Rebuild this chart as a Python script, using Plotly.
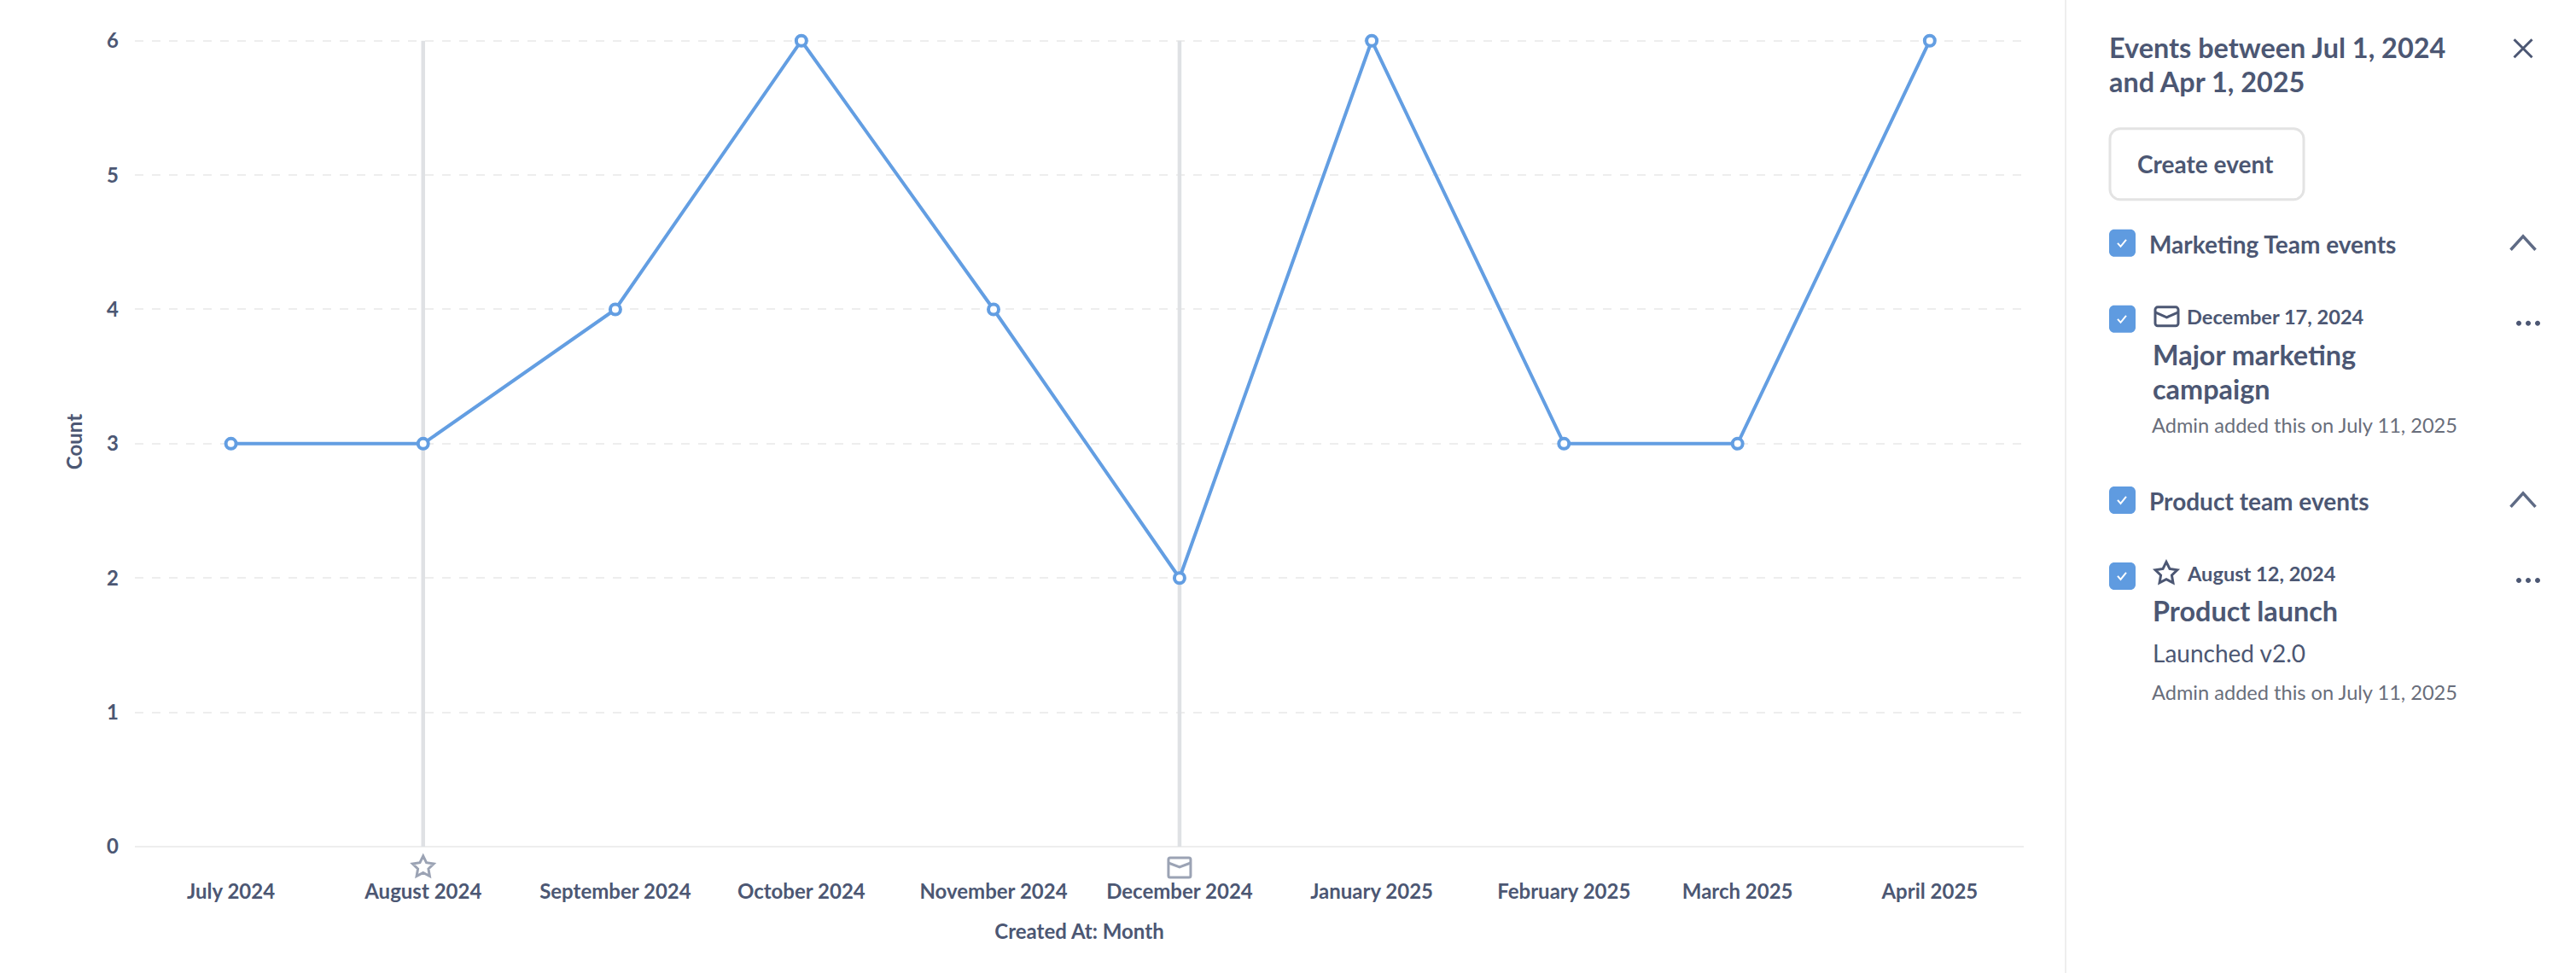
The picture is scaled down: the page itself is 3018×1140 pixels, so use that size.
import math
import plotly.graph_objects as go

# ---------- data ----------
months = ["2024-07-01", "2024-08-01", "2024-09-01", "2024-10-01", "2024-11-01",
          "2024-12-01", "2025-01-01", "2025-02-01", "2025-03-01", "2025-04-01"]
month_labels = ["July 2024", "August 2024", "September 2024", "October 2024", "November 2024",
                "December 2024", "January 2025", "February 2025", "March 2025", "April 2025"]
counts = [3, 3, 4, 6, 4, 2, 6, 3, 3, 6]
y_ticks = [0, 1, 2, 3, 4, 5, 6]
event_months = ["2024-08-01", "2024-12-01"]
event_icons = ["star", "mail"]

x_title = "Created At: Month"
y_title = "Count"
panel_title = ["Events between Jul 1, 2024", "and Apr 1, 2025"]
button_label = "Create event"
group_names = ["Marketing Team events", "Product team events"]
event_dates = ["December 17, 2024", "August 12, 2024"]
event_names = [["Major marketing", "campaign"], ["Product launch"]]
event_note = "Launched v2.0"
event_author = "Admin added this on July 11, 2025"

# ---------- style / layout ----------
W, H = 3018, 1140
Y_TOP = 6.03  # a hair above 6 so the top gridline is still drawn
L, R, B = 158, 2371, 992
T = 48 - (Y_TOP - 6) * (992 - 48) / 6
FONT = "Lato"
TXT = "#4C5773"
BLUE = "#639EE2"
GRID = "#EEEEEE"
EVT = "#DFE1E4"
ICON = "#9BA3B4"
CHECK = "#5F9BE0"
DX, DY = -3, -1  # annotation text box inset


def px(x):
    return (x - L) / (R - L)


def py(y):
    return (B - y) / (B - T)


def pt(x, y):
    return f"{px(x):.6f},{py(y):.6f}"


def rrect(x0, y0, x1, y1, r):
    k = 0.45 * r
    return (f"M{pt(x0 + r, y0)} L{pt(x1 - r, y0)} "
            f"C{pt(x1 - k, y0)} {pt(x1, y0 + k)} {pt(x1, y0 + r)} "
            f"L{pt(x1, y1 - r)} C{pt(x1, y1 - k)} {pt(x1 - k, y1)} {pt(x1 - r, y1)} "
            f"L{pt(x0 + r, y1)} C{pt(x0 + k, y1)} {pt(x0, y1 - k)} {pt(x0, y1 - r)} "
            f"L{pt(x0, y0 + r)} C{pt(x0, y0 + k)} {pt(x0 + k, y0)} {pt(x0 + r, y0)} Z")


def poly(points, close=False):
    s = "M" + " L".join(pt(a, b) for a, b in points)
    return s + (" Z" if close else "")


def star_pts(cx, cy, r):
    out = []
    for i in range(10):
        rad = r if i % 2 == 0 else r * 0.5
        a = -math.pi / 2 + i * math.pi / 5
        out.append((cx + rad * math.cos(a), cy + rad * math.sin(a)))
    return out


shapes = []
annots = []


def shape_path(path, line=None, width=0, fill=None):
    shapes.append(dict(type="path", xref="paper", yref="paper", path=path,
                       line=dict(color=line or "rgba(0,0,0,0)", width=width),
                       fillcolor=fill or "rgba(0,0,0,0)", layer="above"))


def text(x, y, s, size, weight=400, color=TXT, anchor="left"):
    annots.append(dict(xref="paper", yref="paper", x=px(x + DX), y=py(y + DY), text=s, showarrow=False,
                       xanchor=anchor, yanchor="middle", align="left",
                       font=dict(family=FONT, size=size, color=color, weight=weight)))


def checkbox(y0):
    shape_path(rrect(2471, y0, 2502, y0 + 32, 6), fill=CHECK)
    shape_path(poly([(2481, y0 + 16), (2484.5, y0 + 20), (2491, y0 + 12)]), line="#FFFFFF", width=2)


def chevron(y0):
    shape_path(poly([(2941.5, y0 + 16), (2956, y0), (2970.5, y0 + 16)]), line="#5F6B85", width=3.5)


def dots(y):
    for x in (2951, 2962, 2973):
        shape_path(rrect(x - 3, y - 3, x + 3, y + 3, 3), fill="#4C5773")


def mail_icon(x0, y0, x1, y1, color, width):
    shape_path(rrect(x0, y0, x1, y1, 3), line=color, width=width)
    mid = (x0 + x1) / 2
    shape_path(poly([(x0, y0 + 6), (mid, y0 + 12), (x1, y0 + 6)]), line=color, width=width)


# Divider of the side panel
shape_path(poly([(2420, 0), (2420, H)]), line="#EEEEEE", width=2)

# Panel header
text(2472, 57, panel_title[0], 32.4, 700)
text(2472, 97, panel_title[1], 32.4, 700)
shape_path(poly([(2945.5, 46.5), (2966.5, 67.5)]), line=TXT, width=3)
shape_path(poly([(2966.5, 46.5), (2945.5, 67.5)]), line=TXT, width=3)

# Button
shape_path(rrect(2472, 151, 2699, 234, 12), line="#E3E3E3", width=3, fill="#FFFFFF")
text(2587, 193, button_label, 28, 700, anchor="center")

# Marketing group
checkbox(269)
text(2519, 287, group_names[0], 28, 700)
chevron(277)
checkbox(358)
mail_icon(2525, 360, 2552, 382, TXT, 3)
text(2563, 372, event_dates[0], 23.6, 700)
dots(379)
text(2523, 417, event_names[0][0], 32.4, 700)
text(2523, 457, event_names[0][1], 32.4, 700)
text(2522, 499, event_author, 23.6, 400, color="#696E7B")

# Product group
checkbox(570)
text(2519, 588, group_names[1], 28, 700)
chevron(578)
checkbox(659)
shape_path(poly(star_pts(2538, 672, 13.5), close=True), line=TXT, width=3)
text(2563, 673, event_dates[1], 23.6, 700)
dots(680)
text(2523, 717, event_names[1][0], 32.4, 700)
text(2523, 766, event_note, 28, 400)
text(2522, 812, event_author, 23.6, 400, color="#696E7B")

# Event icons under the axis, anchored to the event month on the date axis
# (pixel-sized shape paths count y upwards from the anchor)
star_path = "M" + " L".join(f"{a:.2f},{-b:.2f}" for a, b in star_pts(0, 24, 13)) + " Z"
mail_body = "M-11,-13 Q-13,-13 -13,-15 L-13,-34 Q-13,-36 -11,-36 L11,-36 Q13,-36 13,-34 L13,-15 Q13,-13 11,-13 Z"
mail_flap = "M-13,-19 L0,-24 L13,-19"
for d, ic in zip(event_months, event_icons):
    paths = [star_path] if ic == "star" else [mail_body, mail_flap]
    for p in paths:
        shapes.append(dict(type="path", xref="x", yref="paper", xsizemode="pixel", ysizemode="pixel",
                           xanchor=d, yanchor=0, path=p, layer="above",
                           line=dict(color=ICON, width=3), fillcolor="rgba(0,0,0,0)"))

fig = go.Figure()

for d in event_months:
    fig.add_trace(go.Scatter(x=[d, d], y=[y_ticks[0], y_ticks[-1]], mode="lines",
                             line=dict(color=EVT, width=4.5), hoverinfo="skip", showlegend=False))

fig.add_trace(go.Scatter(
    x=months, y=counts, mode="lines+markers", showlegend=False, cliponaxis=False,
    line=dict(color=BLUE, width=4),
    marker=dict(size=12, color="#FFFFFF", line=dict(color=BLUE, width=4)),
))

fig.update_layout(
    width=W, height=H, autosize=False,
    margin=dict(l=L, r=W - R, t=T, b=H - B, pad=0),
    paper_bgcolor="#FFFFFF", plot_bgcolor="#FFFFFF",
    font=dict(family=FONT, color=TXT, size=24),
    shapes=shapes, annotations=annots, showlegend=False,
    xaxis=dict(
        type="date", range=["2024-06-15 12:00", "2025-04-16 04:00"],
        tickmode="array", tickvals=months, ticktext=month_labels,
        showgrid=False, zeroline=False, showline=False, ticks="",
        tickfont=dict(family=FONT, size=24, color=TXT, weight=700),
        ticklabelstandoff=36, tickangle=0,
        title=dict(text=x_title, standoff=26,
                   font=dict(family=FONT, size=24, color=TXT, weight=700)),
    ),
    yaxis=dict(
        range=[0, Y_TOP], tickmode="array", tickvals=y_ticks,
        showgrid=True, gridcolor=GRID, gridwidth=2, griddash="10px,10px",
        zeroline=True, zerolinecolor=GRID, zerolinewidth=2, showline=False, ticks="",
        tickfont=dict(family=FONT, size=24, color=TXT, weight=700),
        ticklabelstandoff=18,
        title=dict(text=y_title, standoff=21,
                   font=dict(family=FONT, size=24, color=TXT, weight=700)),
    ),
)

fig.write_html("out.html", config={"displayModeBar": False},
               post_script="document.body.style.margin='0';")
